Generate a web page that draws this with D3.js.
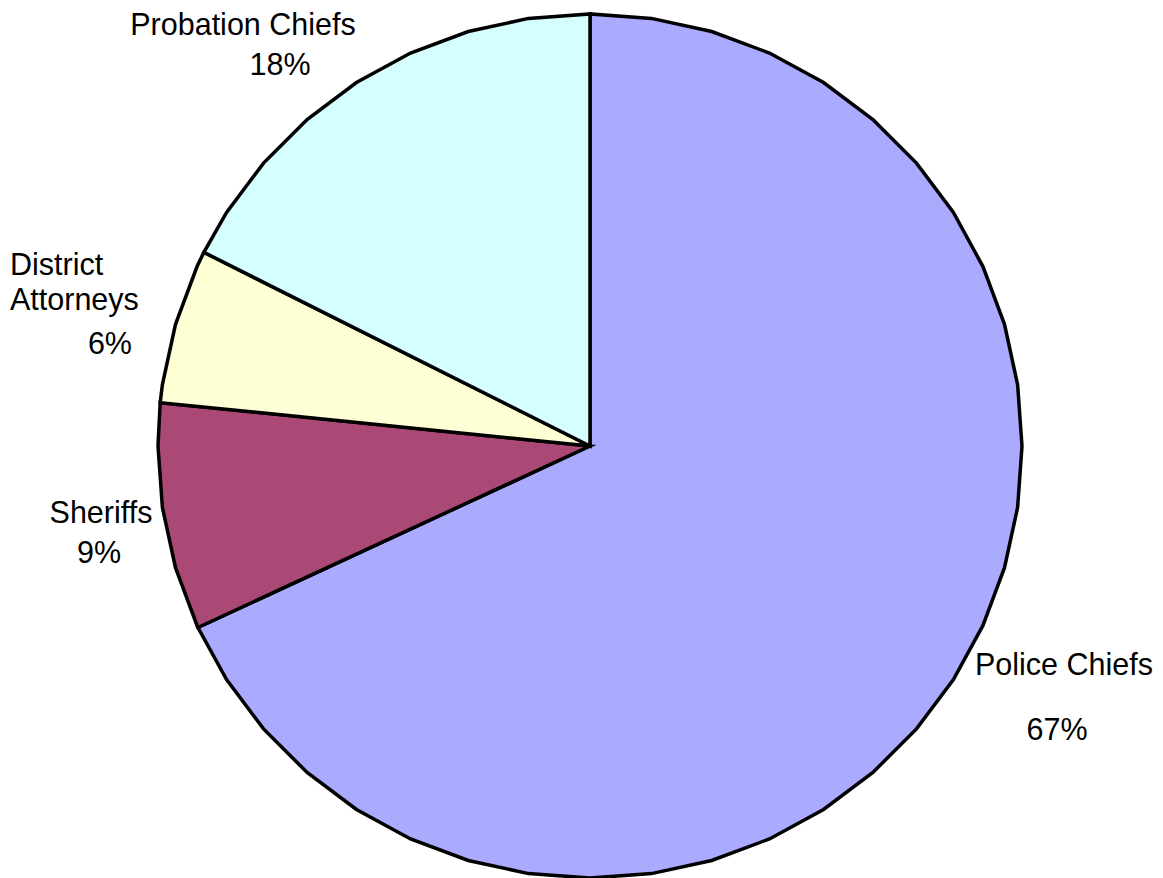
<!doctype html>
<html lang="en">
  <head>
    <meta charset="utf-8">
    <title>Pie chart</title>
    <script src="https://d3js.org/d3.v7.min.js"></script>
    <style>
      body { margin: 0; background: #fff; }
      text { font-family: "Liberation Sans", Arial, sans-serif; font-size: 30.5px; fill: #000; }
    </style>
  </head>
  <body>
    <div class="visholder"></div>
    <script>
      // data (slice shares, clockwise from 12 o'clock)
      const categories = ['Police Chiefs', 'Sheriffs', 'District Attorneys', 'Probation Chiefs'];
      const shares = [68.1, 8.5, 5.8, 17.6];
      const pctLabels = ['67%', '9%', '6%', '18%'];
      const colors = ['#aaaaff', '#aa4975', '#ffffd5', '#d5ffff'];

      const w = 1163;
      const h = 878;
      const cx = 590, cy = 446, radius = 432;
      const segs = 44; // outline is drawn as a polygon

      const svg = d3.select('.visholder')
        .append('svg')
        .attr('width', w)
        .attr('height', h);

      const pie = d3.pie().sort(null).value(d => d)(shares);

      const step = 2 * Math.PI / segs;
      const radial = d3.lineRadial()
        .angle(d => d[0])
        .radius(d => d[1])
        .curve(d3.curveLinearClosed);

      function slicePoints(a) {
        const pts = [[0, 0], [a.startAngle, radius]];
        let k = Math.floor(a.startAngle / step) + 1;
        while (k * step < a.endAngle - 1e-6) {
          pts.push([k * step, radius]);
          k++;
        }
        pts.push([a.endAngle, radius]);
        return pts;
      }

      const g = svg.append('g').attr('transform', 'translate(' + cx + ',' + cy + ')');

      g.selectAll('path')
        .data(pie)
        .enter()
        .append('path')
        .attr('d', d => radial(slicePoints(d)))
        .attr('fill', (d, i) => colors[i])
        .attr('stroke', '#000')
        .attr('stroke-width', 3.5)
        .attr('stroke-linejoin', 'miter');

      // label placement (Excel-style, outside the pie)
      const labelLayout = [
        { lines: [[975, 675, 'start']], pct: [1057, 740, 'middle'] },
        { lines: [[101, 523, 'middle']], pct: [99, 563, 'middle'] },
        { lines: [[10, 275, 'start'], [10, 310, 'start']], pct: [132, 354, 'end'] },
        { lines: [[243, 35, 'middle']], pct: [280, 75, 'middle'] }
      ];

      categories.forEach((name, i) => {
        const lay = labelLayout[i];
        const words = lay.lines.length > 1 ? name.split(' ') : [name];
        lay.lines.forEach((p, j) => {
          svg.append('text')
            .attr('x', p[0])
            .attr('y', p[1])
            .attr('text-anchor', p[2])
            .text(words[j]);
        });
        svg.append('text')
          .attr('x', lay.pct[0])
          .attr('y', lay.pct[1])
          .attr('text-anchor', lay.pct[2])
          .text(pctLabels[i]);
      });
    </script>
  </body>
</html>
